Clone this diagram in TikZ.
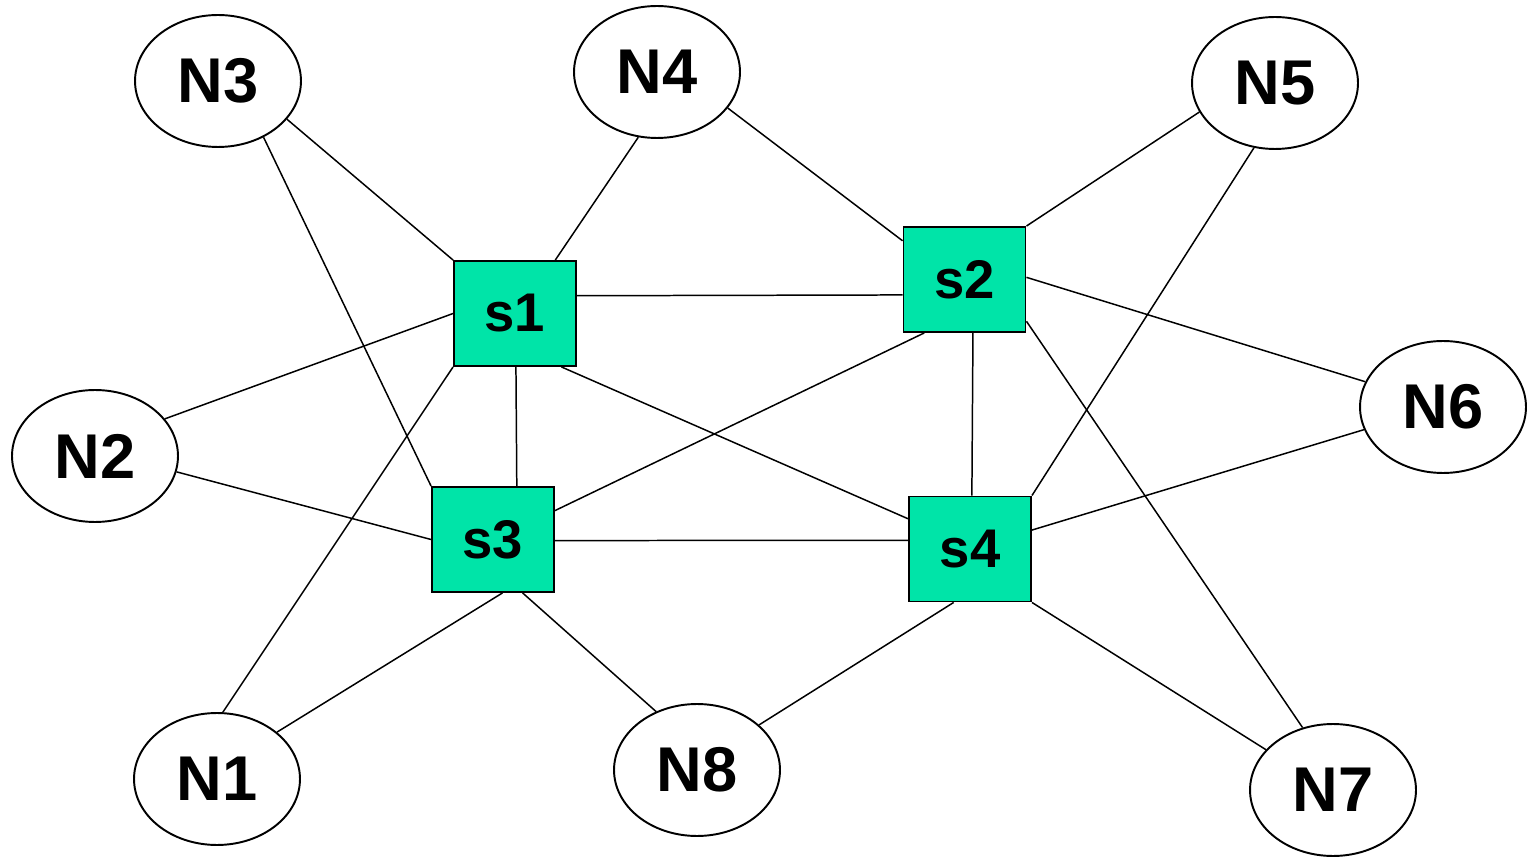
\documentclass[tikz,border=0pt]{standalone}
\usepackage{fontspec}
\setmainfont{Liberation Sans}
\usetikzlibrary{shapes.geometric}
\definecolor{swfill}{RGB}{0,228,168}
\tikzset{
  host/.style={ellipse, draw=black, line width=1.1pt, fill=white, minimum width=3.32cm, minimum height=2.64cm, inner sep=0pt, font=\fontsize{36}{36}\selectfont\bfseries},
  switch/.style={rectangle, draw=black, line width=1.1pt, fill=swfill, minimum width=2.44cm, minimum height=2.1cm, inner sep=0pt, font=\fontsize{31}{31}\selectfont\bfseries},
  link/.style={draw=black, line width=0.85pt}
}
\begin{document}
\begin{tikzpicture}[x=0.02cm, y=-0.02cm]
\useasboundingbox (0,0) rectangle (1531,857);
% hosts
\node[host] (N3) at (218,81) {N3};
\node[host] (N4) at (657,72) {N4};
\node[host] (N5) at (1275,83) {N5};
\node[host] (N2) at (95,456) {N2};
\node[host] (N6) at (1443,407) {N6};
\node[host] (N1) at (217,779) {N1};
\node[host] (N8) at (697,770) {N8};
\node[host] (N7) at (1333,790) {N7};
% switches
\node[switch] (s1) at (515,313.5) {s1};
\node[switch] (s2) at (964.5,279.5) {s2};
\node[switch] (s3) at (493,539.5) {s3};
\node[switch] (s4) at (970,549) {s4};
% links
\draw[link] (N3.-29.1) -- (s1.north west);
\draw[link] (N3.-51.7) -- (s3.north west);
\draw[link] (N4.254) -- (s1.53.4);
\draw[link] (N4.-27.5) -- (s2.148);
\draw[link] (N5.201.3) -- (s2.north east);
\draw[link] (N5.252.9) -- (s4.north east);
\draw[link] (N2.28.5) -- (s1.west);
\draw[link] (N2.-11.9) -- (s3.west);
\draw[link] (N6.162) -- (s2.2.3);
\draw[link] (N6.196.4) -- (s4.17.3);
\draw[link] (s1.16.9) -- (s2.194.1);
\draw[link] (s1.-89) -- (s3.66.3);
\draw[link] (s1.-49.4) -- (s4.154.2);
\draw[link] (s1.south west) -- (N1.85.4);
\draw[link] (s2.233.1) -- (s3.25);
\draw[link] (s2.-81.9) -- (s4.88);
\draw[link] (s2.-34.4) -- (N7.116.6);
\draw[link] (s3.-1.4) -- (s4.172.5);
\draw[link] (s3.-80.3) -- (N1.38.8);
\draw[link] (s3.-61.9) -- (N8.125.3);
\draw[link] (s4.253.2) -- (N8.36.4);
\draw[link] (s4.south east) -- (N7.149.4);
\end{tikzpicture}
\end{document}
